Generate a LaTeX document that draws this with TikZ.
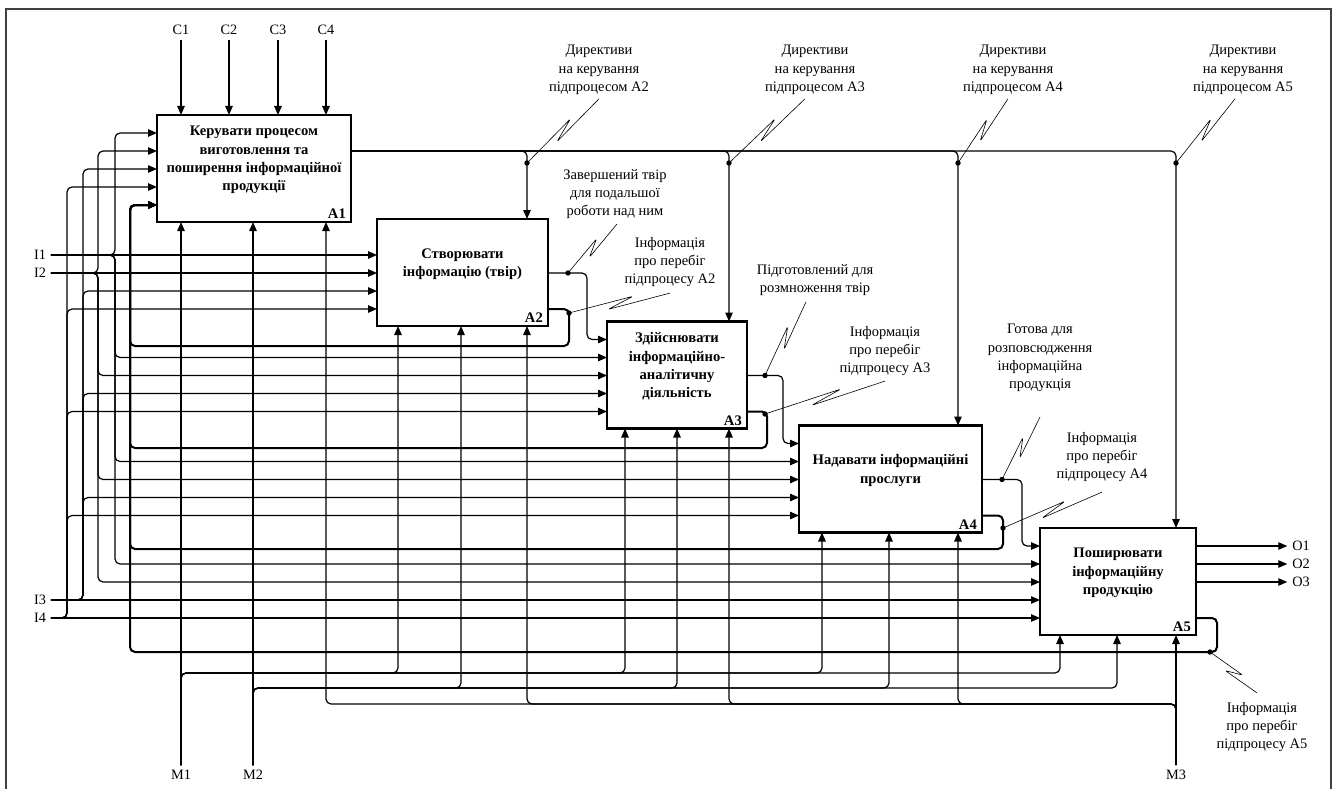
\documentclass[tikz,border=0pt]{standalone}
\usepackage{fontspec}
\setmainfont{Liberation Serif}
\usetikzlibrary{arrows.meta,calc}

\tikzset{
  fbox/.style={draw, line width=2.6pt, inner sep=0pt, outer sep=0pt},
  boxtext/.style={align=center, inner sep=0pt, font=\fontsize{14.6}{18.3}\selectfont\bfseries},
  boxid/.style={anchor=south east, inner xsep=5pt, inner ysep=3pt, font=\fontsize{14.6}{16}\selectfont\bfseries},
  flow/.style={line width=1.2pt, rounded corners=5pt, -{Triangle[length=9pt,width=7.5pt]}},
  fback/.style={flow, line width=2pt},
  term/.style={inner sep=1pt, outer sep=4pt, font=\fontsize{14.3}{16}\selectfont},
  note/.style={align=center, inner sep=1pt, font=\fontsize{14.5}{18.3}\selectfont},
  tick/.style={line width=0.6pt, rounded corners=1.5pt},
  frame/.style={line width=1.6pt, black!75},
}

% squiggle from an arrow point to its label
\newcommand{\squig}[2]{%
  \path (#1) coordinate (sqs) (#2) coordinate (sqe);
  \path (sqs) -- (sqe) coordinate[pos=0.38] (sqa) coordinate[pos=0.64] (sqb);
  \draw[tick] (sqs) -- ($(sqb)!4pt!90:(sqe)$) -- ($(sqa)!4pt!-90:(sqe)$) -- (sqe);
  \fill (sqs) circle (2.7pt);}

\begin{document}
\begin{tikzpicture}[x=1pt, y=-1pt]
    \useasboundingbox (0,0) rectangle (1338,789);
    \draw[frame] (6,789) -- (6,9) -- (1331,9) -- (1331,789);

    % activity boxes
    \node[fbox, minimum width=194pt, minimum height=107pt] (A1) at (254,168.5) {};
    \node[fbox, minimum width=171pt, minimum height=107pt] (A2) at (462.5,272.5) {};
    \node[fbox, minimum width=140pt, minimum height=107pt] (A3) at (677,375) {};
    \node[fbox, minimum width=183pt, minimum height=107pt] (A4) at (890.5,479) {};
    \node[fbox, minimum width=156pt, minimum height=107pt] (A5) at (1118,581.5) {};

    \node[boxtext] (A1t) at ([yshift=8.5pt]A1.center) {Керувати процесом\\виготовлення та\\поширення інформаційної\\продукції};
    \node[boxtext] (A2t) at ([yshift=8.5pt]A2.center) {Створювати\\інформацію (твір)};
    \node[boxtext] (A3t) at ([yshift=8.5pt]A3.center) {Здійснювати\\інформаційно-\\аналітичну\\діяльність};
    \node[boxtext] (A4t) at ([yshift=8.5pt]A4.center) {Надавати інформаційні\\прослуги};
    \node[boxtext] (A5t) at ([yshift=8.5pt]A5.center) {Поширювати\\інформаційну\\продукцію};
    \foreach \bx in {A1,A2,A3,A4,A5}
        \node[boxid] (\bx n) at (\bx.south east) {\bx};

    % ports on the left and right sides
    \foreach \bx in {A1,A2,A3,A4,A5}
        \foreach \k in {1,...,5} {
            \coordinate (\bx i\k) at ($(\bx.north west)+(0,18*\k)$);
            \coordinate (\bx o\k) at ($(\bx.north east)+(0,18*\k)$);
        }

    % buses
    \coordinate (busI1) at (115,0);
    \coordinate (busI2) at (98,0);
    \coordinate (busI3) at (83,0);
    \coordinate (busI4) at (67,0);
    \coordinate (busFB) at (130,0);
    \coordinate (busM1) at (0,673);
    \coordinate (busM2) at (0,688);
    \coordinate (busM3) at (0,704);

    % boundary arrows
    \node[term] (C1) at (181,30) {C1};
    \node[term] (C2) at (229,30) {C2};
    \node[term] (C3) at (278,30) {C3};
    \node[term] (C4) at (326,30) {C4};
    \node[term] (I1) at (40,255) {I1};
    \node[term] (I2) at (40,273) {I2};
    \node[term] (I3) at (40,600) {I3};
    \node[term] (I4) at (40,618) {I4};
    \node[term] (M1) at (181,775) {M1};
    \node[term] (M2) at (253,775) {M2};
    \node[term] (M3) at (1176,775) {M3};
    \node[term] (O1) at (1301,546) {O1};
    \node[term] (O2) at (1301,564) {O2};
    \node[term] (O3) at (1301,582) {O3};

    % controls
    \foreach \c in {C1,C2,C3,C4}
        \draw[flow] (\c) -- (\c |- A1.north);
    \foreach \x/\bx in {527/A2, 729/A3, 958/A4, 1176/A5}
        \draw[flow] (A1o2) -| (\x,0 |- \bx.north);

    % inputs
    \draw[flow] (I1.east) -- (A2i2);
    \foreach \t in {A1i1,A3i2,A4i2,A5i2}
        \draw[flow] (I1.east) -| (busI1 |- \t) -- (\t);
    \draw[flow] (I2.east) -- (A2i3);
    \foreach \t in {A1i2,A3i3,A4i3,A5i3}
        \draw[flow] (I2.east) -| (busI2 |- \t) -- (\t);
    \draw[flow] (I3.east) -- (A5i4);
    \foreach \t in {A1i3,A2i4,A3i4,A4i4}
        \draw[flow] (I3.east) -| (busI3 |- \t) -- (\t);
    \draw[flow] (I4.east) -- (A5i5);
    \foreach \t in {A1i4,A2i5,A3i5,A4i5}
        \draw[flow] (I4.east) -| (busI4 |- \t) -- (\t);

    % outputs between boxes
    \draw[flow] (A2o3) -| (587,0 |- A3i1) -- (A3i1);
    \draw[flow] (A3o3) -| (783,0 |- A4i1) -- (A4i1);
    \draw[flow] (A4o3) -| (1022,0 |- A5i1) -- (A5i1);
    \draw[flow] (A5o1) -- (O1);
    \draw[flow] (A5o2) -- (O2);
    \draw[flow] (A5o3) -- (O3);

    % feedback to A1
    \draw[fback] (A2o5) -| (569,346) -| (busFB |- A1i5) -- (A1i5);
    \draw[fback] (A3o5) -| (767,448) -| (busFB |- A1i5) -- (A1i5);
    \draw[fback] (A4o5) -| (1003,549) -| (busFB |- A1i5) -- (A1i5);
    \draw[fback] (A5o5) -| (1217,652) -| (busFB |- A1i5) -- (A1i5);

    % mechanisms
    \draw[flow] (M1) -- (M1 |- A1.south);
    \foreach \x/\bx in {398/A2, 625/A3, 822/A4, 1060/A5}
        \draw[flow] (M1.north) |- (\x,0 |- busM1) -- (\x,0 |- \bx.south);
    \draw[flow] (M2) -- (M2 |- A1.south);
    \foreach \x/\bx in {461/A2, 677/A3, 889/A4, 1117/A5}
        \draw[flow] (M2.north) |- (\x,0 |- busM2) -- (\x,0 |- \bx.south);
    \draw[flow] (M3) -- (M3 |- A5.south);
    \foreach \x/\bx in {326/A1, 527/A2, 729/A3, 958/A4}
        \draw[flow] (M3.north) |- (\x,0 |- busM3) -- (\x,0 |- \bx.south);

    % arrow labels
    \node[note] (nA2c) at (599,70) {Директиви\\на керування\\підпроцесом А2};
    \node[note] (nA3c) at (815,70) {Директиви\\на керування\\підпроцесом А3};
    \node[note] (nA4c) at (1013,70) {Директиви\\на керування\\підпроцесом А4};
    \node[note] (nA5c) at (1243,70) {Директиви\\на керування\\підпроцесом А5};
    \node[note] (nA2o) at (615,194) {Завершений твір\\для подальшої\\роботи над ним};
    \node[note] (nA2f) at (670,262) {Інформація\\про перебіг\\підпроцесу А2};
    \node[note] (nA3o) at (815,280) {Підготовлений для\\розмноження твір};
    \node[note] (nA3f) at (885,351) {Інформація\\про перебіг\\підпроцесу А3};
    \node[note] (nA4o) at (1040,358) {Готова для\\розповсюдження\\інформаційна\\продукція};
    \node[note] (nA4f) at (1102,457) {Інформація\\про перебіг\\підпроцесу А4};
    \node[note] (nA5f) at (1262,727) {Інформація\\про перебіг\\підпроцесу А5};

    \coordinate (dA2c) at (527,163);
    \coordinate (dA3c) at (729,163);
    \coordinate (dA4c) at (958,163);
    \coordinate (dA5c) at (1176,163);
    \coordinate (dA2o) at (568,273);
    \coordinate (dA2f) at (569,313);
    \coordinate (dA3o) at (765,375.5);
    \coordinate (dA3f) at (765,414);
    \coordinate (dA4o) at (1002,479.5);
    \coordinate (dA4f) at (1003,528);
    \coordinate (dA5f) at (1210,652);

    \squig{dA2c}{[yshift=-3pt]nA2c.south}
    \squig{dA3c}{[xshift=-10pt,yshift=-3pt]nA3c.south}
    \squig{dA4c}{[xshift=-5pt,yshift=-3pt]nA4c.south}
    \squig{dA5c}{[xshift=-8pt,yshift=-3pt]nA5c.south}
    \squig{dA2o}{[xshift=2pt,yshift=-4pt]nA2o.south}
    \squig{dA2f}{[yshift=-5pt]nA2f.south}
    \squig{dA3o}{[xshift=-9pt,yshift=-5pt]nA3o.south}
    \squig{dA3f}{[yshift=-4pt]nA3f.south}
    \squig{dA4o}{[yshift=-24pt]nA4o.south}
    \squig{dA4f}{[yshift=-9pt]nA4f.south}
    \squig{dA5f}{[xshift=-5pt,yshift=8pt]nA5f.north}
\end{tikzpicture}
\end{document}
